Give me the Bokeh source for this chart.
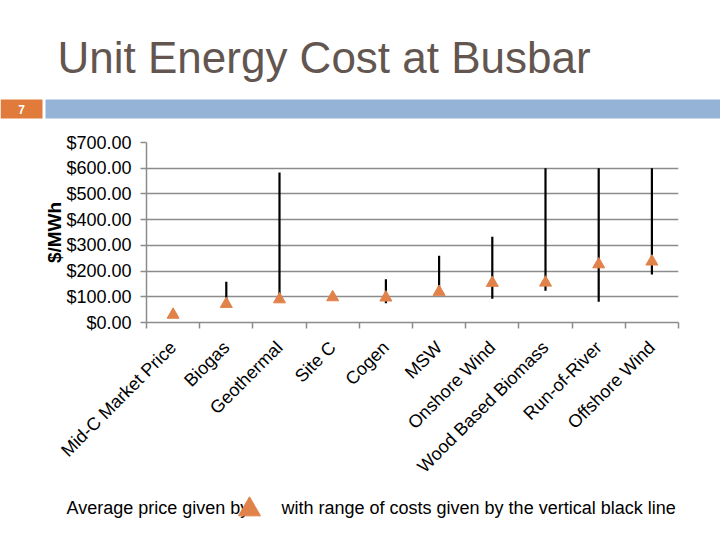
import math
from bokeh.plotting import figure
from bokeh.layouts import column
from bokeh.models import Range1d, FixedTicker, ColumnDataSource
from bokeh.core.properties import value
from bokeh.embed import file_html
from bokeh.resources import INLINE

# ---------------- data ----------------
categories = ["Mid-C Market Price", "Biogas", "Geothermal", "Site C", "Cogen",
              "MSW", "Onshore Wind", "Wood Based Biomass", "Run-of-River",
              "Offshore Wind"]
avg_cost = [30, 72, 90, 98, 97, 119, 154, 155, 226, 237]
range_low = [None, 72, 90, None, 75, 119, 92, 123, 81, 187]
range_high = [None, 158, 583, None, 168, 260, 333, 600, 600, 600]
y_ticks = [0, 100, 200, 300, 400, 500, 600, 700]
y_tick_labels = ["$0.00", "$100.00", "$200.00", "$300.00", "$400.00",
                 "$500.00", "$600.00", "$700.00"]
title_text = "Unit Energy Cost at Busbar"
slide_number = "7"
y_label = "$/MWh"
note_left = "Average price given by"
note_right = "with range of costs given by the vertical black line"

FONT = value("Liberation Sans")
ORANGE = "#E07B3B"
TRI = "#E0824A"
GRID = "#8C8C8C"
W = 720

# ---------------- header ----------------
hdr = figure(width=W, height=125, x_range=Range1d(0, 720), y_range=Range1d(125, 0),
             output_backend="svg", toolbar_location=None, min_border=0,
             x_axis_location=None, y_axis_location=None, frame_align=False)
hdr.grid.visible = False
hdr.outline_line_color = None
hdr.text(x=[57], y=[57], text=[title_text], text_font=FONT, text_font_size="44px",
         text_color="#635650", text_baseline="middle", text_align="left")
hdr.quad(left=[0], right=[42], top=[99], bottom=[118], fill_color=ORANGE, line_color=None)
hdr.quad(left=[45], right=[720], top=[99], bottom=[118], fill_color="#95B3D7", line_color=None)
hdr.text(x=[21], y=[108.5], text=[slide_number], text_font=FONT, text_font_size="12px",
         text_font_style="bold", text_color="white", text_baseline="middle", text_align="center")

# ---------------- chart ----------------
p = figure(width=W, height=361, x_range=Range1d(0, 10), y_range=Range1d(0, 700),
           output_backend="svg", toolbar_location=None, frame_align=False,
           min_border_left=146, min_border_right=42, min_border_top=17, min_border_bottom=162)
p.outline_line_color = None
p.xgrid.visible = False
p.ygrid.grid_line_color = GRID
p.ygrid.grid_line_width = 1.5

xpos = [i + 0.5 for i in range(len(categories))]
p.xaxis.ticker = FixedTicker(ticks=xpos, minor_ticks=list(range(len(categories) + 1)))
p.xaxis.major_label_overrides = {x: c for x, c in zip(xpos, categories)}
p.xaxis.major_label_orientation = math.pi / 4
p.xaxis.major_tick_in = 0
p.xaxis.major_tick_out = 0
p.xaxis.minor_tick_in = 0
p.xaxis.minor_tick_out = 6
p.xaxis.minor_tick_line_color = GRID
p.xaxis.minor_tick_line_width = 1.5
p.xaxis.axis_line_color = GRID
p.xaxis.axis_line_width = 1.5
p.xaxis.major_label_text_font = "Liberation Sans"
p.xaxis.major_label_text_font_size = "18px"
p.xaxis.major_label_text_color = "black"
p.xaxis.major_label_standoff = 16

p.yaxis.ticker = FixedTicker(ticks=y_ticks, minor_ticks=[])
p.yaxis.major_label_overrides = {t: l for t, l in zip(y_ticks, y_tick_labels)}
p.yaxis.major_tick_in = 0
p.yaxis.major_tick_out = 6
p.yaxis.major_tick_line_color = GRID
p.yaxis.major_tick_line_width = 1.5
p.yaxis.axis_line_color = GRID
p.yaxis.axis_line_width = 1.5
p.yaxis.major_label_text_font = "Liberation Sans"
p.yaxis.major_label_text_font_size = "18px"
p.yaxis.major_label_text_color = "black"
p.yaxis.major_label_standoff = 9
p.yaxis.axis_label = y_label
p.yaxis.axis_label_text_font = "Liberation Sans"
p.yaxis.axis_label_text_font_size = "19px"
p.yaxis.axis_label_text_font_style = "bold"
p.yaxis.axis_label_text_color = "black"
p.yaxis.axis_label_standoff = -2

seg = ColumnDataSource(dict(
    x=[x for x, lo in zip(xpos, range_low) if lo is not None],
    lo=[lo for lo in range_low if lo is not None],
    hi=[hi for hi in range_high if hi is not None],
))
p.segment(x0="x", y0="lo", x1="x", y1="hi", source=seg, line_color="black", line_width=2.2)
p.scatter(x=xpos, y=avg_cost, marker="triangle", size=12, fill_color=TRI, line_color=TRI)

# ---------------- footer ----------------
ftr = figure(width=W, height=54, x_range=Range1d(0, 720), y_range=Range1d(540, 486),
             output_backend="svg", toolbar_location=None, min_border=0,
             x_axis_location=None, y_axis_location=None, frame_align=False)
ftr.grid.visible = False
ftr.outline_line_color = None
ftr.text(x=[66], y=[507], text=[note_left], text_font=FONT, text_font_size="18px",
         text_color="black", text_baseline="middle", text_align="left")
ftr.text(x=[281], y=[507], text=[note_right], text_font=FONT, text_font_size="18px",
         text_color="black", text_baseline="middle", text_align="left")
ftr.scatter(x=[249], y=[509], marker="triangle", size=22, fill_color=TRI, line_color=TRI)

layout = column(hdr, p, ftr, spacing=0)
open("out.html", "w").write(file_html(layout, INLINE))
